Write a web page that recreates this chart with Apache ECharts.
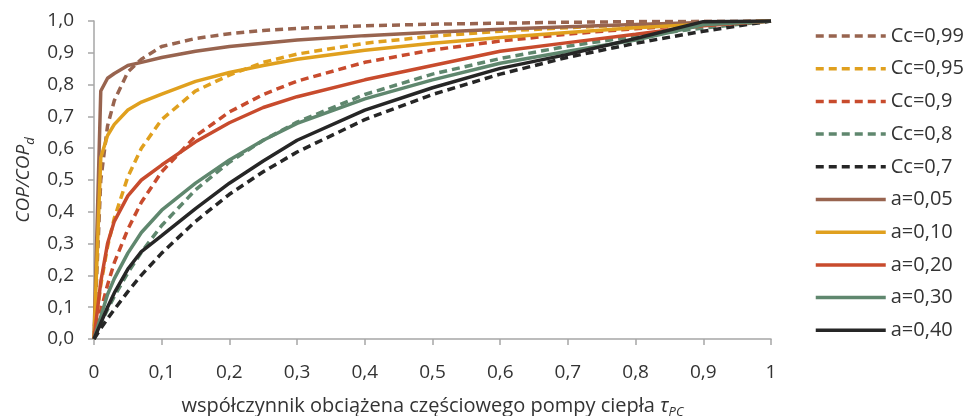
<!DOCTYPE html>
<html>
<head>
<meta charset="utf-8">
<script src="https://cdn.jsdelivr.net/npm/echarts@6/dist/echarts.min.js"></script>
<style>
  html, body { margin: 0; background: #fff; }
  #chart { width: 965px; height: 416px; }
</style>
</head>
<body>
<div id="chart"></div>
<script>
// part-load ratio (x)
const tau = [0, 0.01, 0.02, 0.03, 0.05, 0.07, 0.1, 0.15, 0.2, 0.25, 0.3, 0.4, 0.5, 0.6, 0.7, 0.8, 0.9, 1];

// dashed curves, Cc
const cc099 = [0, 0.50, 0.67, 0.75, 0.84, 0.88, 0.92, 0.945, 0.96, 0.97, 0.977, 0.985, 0.99, 0.993, 0.996, 0.998, 0.999, 1];
const cc095 = [0, 0.17, 0.29, 0.38, 0.51, 0.60, 0.69, 0.78, 0.83, 0.87, 0.896, 0.93, 0.952, 0.968, 0.979, 0.988, 0.994, 1];
const cc09 = [0, 0.09, 0.17, 0.24, 0.345, 0.43, 0.526, 0.638, 0.714, 0.769, 0.811, 0.87, 0.909, 0.937, 0.959, 0.976, 0.989, 1];
const cc08 = [0, 0.048, 0.093, 0.134, 0.208, 0.273, 0.357, 0.469, 0.556, 0.625, 0.682, 0.769, 0.833, 0.882, 0.921, 0.952, 0.978, 1];
const cc07 = [0, 0.033, 0.064, 0.093, 0.149, 0.201, 0.27, 0.37, 0.455, 0.526, 0.588, 0.69, 0.769, 0.833, 0.886, 0.93, 0.968, 1];

// solid curves, a
const a005 = [0, 0.78, 0.82, 0.835, 0.86, 0.87, 0.885, 0.905, 0.92, 0.93, 0.94, 0.954, 0.965, 0.974, 0.982, 0.989, 0.995, 1];
const a010 = [0, 0.57, 0.64, 0.675, 0.72, 0.745, 0.77, 0.81, 0.838, 0.86, 0.88, 0.908, 0.93, 0.948, 0.964, 0.979, 0.99, 1];
const a020 = [0, 0.18, 0.30, 0.37, 0.45, 0.50, 0.547, 0.62, 0.68, 0.728, 0.762, 0.815, 0.86, 0.905, 0.932, 0.958, 0.985, 1];
const a030 = [0, 0.07, 0.14, 0.19, 0.27, 0.335, 0.405, 0.49, 0.563, 0.625, 0.678, 0.755, 0.815, 0.867, 0.905, 0.94, 0.988, 1];
const a040 = [0, 0.05, 0.10, 0.145, 0.22, 0.275, 0.325, 0.41, 0.49, 0.56, 0.625, 0.72, 0.79, 0.851, 0.895, 0.945, 0.998, 1];

const xTickLabels = ["0", "0,1", "0,2", "0,3", "0,4", "0,5", "0,6", "0,7", "0,8", "0,9", "1"];
const yTickLabels = ["0,0", "0,1", "0,2", "0,3", "0,4", "0,5", "0,6", "0,7", "0,8", "0,9", "1,0"];

const BROWN = "#98644f";
const YELLOW = "#e0a01e";
const RED = "#c84b2d";
const GREEN = "#5f876e";
const BLACK = "#262626";
const FONT = "Open Sans";
const TEXT = "#333333";
const AXIS = "#a6a6a6";

const curves = [
  { name: "Cc=0,99", values: cc099, color: BROWN, dashed: true },
  { name: "Cc=0,95", values: cc095, color: YELLOW, dashed: true },
  { name: "Cc=0,9", values: cc09, color: RED, dashed: true },
  { name: "Cc=0,8", values: cc08, color: GREEN, dashed: true },
  { name: "Cc=0,7", values: cc07, color: BLACK, dashed: true },
  { name: "a=0,05", values: a005, color: BROWN, dashed: false },
  { name: "a=0,10", values: a010, color: YELLOW, dashed: false },
  { name: "a=0,20", values: a020, color: RED, dashed: false },
  { name: "a=0,30", values: a030, color: GREEN, dashed: false },
  { name: "a=0,40", values: a040, color: BLACK, dashed: false },
];

const chart = echarts.init(document.getElementById("chart"), null, { renderer: "canvas" });

const tickStyle = { show: true, length: 6, lineStyle: { color: AXIS, width: 1.5 } };

chart.setOption({
  animation: false,
  textStyle: { fontFamily: FONT },
  grid: { left: 94, right: 194, top: 21, bottom: 77, outerBoundsMode: "none" },
  legend: {
    orient: "vertical",
    left: 809,
    top: 20,
    align: "left",
    itemWidth: 70,
    itemHeight: 22,
    itemGap: 10.7,
    itemStyle: { opacity: 0 },
    lineStyle: { width: 3.5 },
    textStyle: { fontSize: 20, lineHeight: 22, color: TEXT, fontFamily: FONT },
    data: curves.map((c) => c.name),
  },
  xAxis: {
    type: "value",
    min: 0,
    max: 1,
    interval: 0.1,
    axisLine: { lineStyle: { color: AXIS, width: 1.5 } },
    axisTick: tickStyle,
    splitLine: { show: false },
    axisLabel: {
      fontSize: 19,
      color: TEXT,
      margin: 24,
      formatter: (v) => xTickLabels[Math.round(v * 10)],
    },
    name: "{n|współczynnik obciążena częściowego pompy ciepła }{t|τ}{s|PC}",
    nameLocation: "middle",
    nameGap: 54,
    nameTextStyle: {
      rich: {
        n: { fontSize: 20, color: TEXT, fontFamily: FONT, lineHeight: 26 },
        t: { fontSize: 20, color: TEXT, fontFamily: FONT, fontStyle: "italic", lineHeight: 26 },
        s: { fontSize: 13, color: TEXT, fontFamily: FONT, fontStyle: "italic", lineHeight: 26, verticalAlign: "bottom" },
      },
    },
  },
  yAxis: {
    type: "value",
    min: 0,
    max: 1,
    interval: 0.1,
    axisLine: { show: true, lineStyle: { color: AXIS, width: 1.5 } },
    axisTick: tickStyle,
    splitLine: { show: false },
    axisLabel: {
      fontSize: 19,
      color: TEXT,
      margin: 20,
      formatter: (v) => yTickLabels[Math.round(v * 10)],
    },
    name: "{i|COP/COP}{s|d}",
    nameLocation: "middle",
    nameGap: 57,
    nameTextStyle: {
      rich: {
        i: { fontSize: 19, color: TEXT, fontFamily: FONT, fontStyle: "italic", lineHeight: 26 },
        s: { fontSize: 13, color: TEXT, fontFamily: FONT, fontStyle: "italic", lineHeight: 26, verticalAlign: "bottom" },
      },
    },
  },
  series: curves.map((c) => ({
    name: c.name,
    type: "line",
    data: tau.map((x, i) => [x, c.values[i]]),
    symbol: "none",
    smooth: false,
    lineStyle: {
      color: c.color,
      width: 3.5,
      type: c.dashed ? [8, 5] : "solid",
    },
    itemStyle: { color: c.color },
  })),
});
</script>
</body>
</html>
